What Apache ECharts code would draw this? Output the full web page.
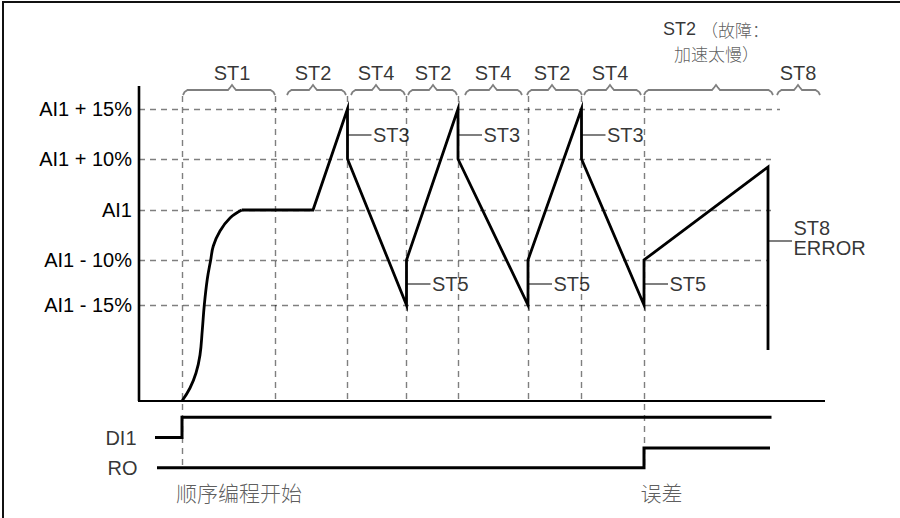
<!DOCTYPE html>
<html><head><meta charset="utf-8">
<script src="https://cdn.jsdelivr.net/npm/echarts@6/dist/echarts.min.js"></script>
<style>
html,body{margin:0;padding:0;background:#fff;}
#wrap{position:relative;width:900px;height:518px;overflow:hidden;}
#c{width:900px;height:518px;}
#frame{position:absolute;left:2px;top:1px;right:-4px;bottom:-4px;border-left:2px solid #111;border-top:2px solid #111;pointer-events:none;}
</style>
</head><body><div id="wrap"><div id="c"></div><div id="frame"></div></div>
<script>
// ---- level (y) axis: schematic levels ----
const levelLabels = ['AI1 + 15%', 'AI1 + 10%', 'AI1', 'AI1 - 10%', 'AI1 - 15%'];
const levelValues = [292, 242, 191, 141, 96];
const levelLineEnd = [641, 632, 632, 628, 628];
const axisTop = 315;
const axisEnd = 686;

// ---- state boundaries (time) ----
const stepTimes = [43, 136, 208.5, 267.5, 319, 389, 442.5, 505];
const stepBottom = [-69, 0, 0, 0, 0, 0, 0, -69];
const stepTop = 305;

// ---- start-up S curve ----
const startT = [43, 51, 57, 61, 63.3, 65.3, 68.3, 71.7, 74.3, 81, 91, 102.7];
const startV = [0, 13, 28, 46, 71, 96, 122, 141, 155, 170, 183, 191];

// ---- ramp sequence ----
const rampT = [102.7, 174, 208.5, 208.5, 267.5, 267.5, 319, 319, 389, 389, 442.5, 442.5, 505, 505, 629, 629];
const rampV = [191, 191, 292, 242, 96, 141, 292, 242, 96, 141, 292, 242, 96, 141, 234, 51];

// ---- state markers ----
const markerT = [208.5, 319, 442.5, 267.5, 389, 505, 629];
const markerV = [266.5, 266.5, 266.5, 117, 117, 117, 160];
const markerText = ['ST3', 'ST3', 'ST3', 'ST5', 'ST5', 'ST5', 'ST8\nERROR'];

// ---- state braces ----
const braceNames = ['ST1', 'ST2', 'ST4', 'ST2', 'ST4', 'ST2', 'ST4', '', 'ST8'];
const braceStart = [44, 148, 212, 269, 326, 388, 445, 505, 638];
const braceEnd = [136, 207, 266, 318, 383, 443, 502, 634, 681];
const braceMid = [93, 174, 237, 294, 354, 413, 471, 577, 659];
const faultLine1 = ['ST2', '（故障：'];
const faultLine2 = '加速太慢）';

// ---- digital signals ----
const di1T = [16, 43, 43, 632.5];
const di1V = [-36.5, -36.5, -16.3, -16.3];
const roT = [18, 505, 505, 631];
const roV = [-66.7, -66.7, -47, -47];
const signalNames = ['DI1', 'RO'];
const eventText = ['顺序编程开始', '误差'];

const fontLatin = '"Liberation Sans", Arial, Helvetica, sans-serif';
const fontCJK = '"Noto Sans CJK SC", "Noto Sans CJK JP", sans-serif';

const zip = (a, b) => a.map((v, i) => [v, b[i]]);
const dash = { type: [6, 5], width: 1.4, color: '#000' };

// brace polyline shape around start/mid/end
function braceCoords(s, m, e) {
  const L = 311;
  return [[s, L - 5], [s + 1.5, L - 2], [s + 4.5, L], [m - 4, L], [m - 1.5, L + 3], [m, L + 5],
          [m + 1.5, L + 3], [m + 4, L], [e - 4.5, L], [e - 1.5, L - 2], [e, L - 5]];
}

const textItems = [];
function addText(x, y, text, pos, extra) {
  textItems.push({ value: [x, y], label: Object.assign({
    show: true, position: pos, distance: 0, formatter: text,
    fontSize: 20, fontFamily: fontLatin, color: '#000'
  }, extra || {}) });
}
const cjkStyle = { fontFamily: fontCJK, color: '#333', fontWeight: 300 };
braceNames.forEach((n, i) => { if (n) addText(braceMid[i], 328, n, 'inside'); });
addText(braceMid[7], 372, '{a|' + faultLine1[0] + ' }{b|' + faultLine1[1] + '}', 'inside', {
  lineHeight: 17,
  rich: { a: { fontSize: 18, lineHeight: 17, fontFamily: fontLatin, color: '#000' },
          b: Object.assign({ fontSize: 17, lineHeight: 17 }, cjkStyle) } });
addText(braceMid[7] + 0.5, 347.5, faultLine2, 'inside', Object.assign({ fontSize: 17, lineHeight: 17 }, cjkStyle));
markerText.forEach((t, i) => {
  addText(markerT[i] + 25, markerV[i], t, 'right', t.indexOf('\n') >= 0 ? { lineHeight: 20.5, offset: [0, -3] } : {});
});
addText(-2, di1V[0], signalNames[0], 'left');
addText(-1, roV[0], signalNames[1], 'left');
addText(36.5, -91, eventText[0], 'right', Object.assign({ fontSize: 21 }, cjkStyle));
addText(501, -91, eventText[1], 'right', Object.assign({ fontSize: 21 }, cjkStyle));

const chart = echarts.init(document.getElementById('c'), null, { renderer: 'svg' });
chart.setOption({
  animation: false,
  backgroundColor: '#fff',
  grid: { left: 139, right: 75, top: 0, bottom: 0 },
  xAxis: { type: 'value', min: 0, max: axisEnd, show: false },
  yAxis: {
    type: 'value', min: -117, max: 401,
    axisLine: { show: false }, axisTick: { show: false }, splitLine: { show: false },
    axisLabel: {
      customValues: levelValues,
      formatter: v => { const i = levelValues.indexOf(v); return i >= 0 ? levelLabels[i] : ''; },
      margin: 7, fontSize: 20, fontFamily: fontLatin, color: '#000'
    }
  },
  series: [
    { type: 'lines', coordinateSystem: 'cartesian2d', clip: false, silent: true,
      lineStyle: dash,
      data: levelValues.map((v, i) => ({ coords: [[0, v], [levelLineEnd[i], v]] })) },
    { type: 'lines', coordinateSystem: 'cartesian2d', clip: false, silent: true,
      lineStyle: dash,
      data: stepTimes.map((t, i) => ({ coords: [[t, stepTop], [t, stepBottom[i]]] })) },
    { type: 'line', clip: false, symbol: 'none', silent: true,
      lineStyle: { color: '#000', width: 2.6 }, data: [[0, 0], [0, axisTop]] },
    { type: 'line', clip: false, symbol: 'none', silent: true,
      lineStyle: { color: '#000', width: 2 }, data: [[-2, 0], [axisEnd, 0]] },
    { type: 'line', clip: false, symbol: 'none', silent: true, smooth: 0.4,
      lineStyle: { color: '#000', width: 2.8 }, data: zip(startT, startV) },
    { type: 'line', clip: false, symbol: 'none', silent: true,
      lineStyle: { color: '#000', width: 2.8, join: 'miter', miterLimit: 20 }, data: zip(rampT, rampV) },
    { type: 'lines', coordinateSystem: 'cartesian2d', clip: false, silent: true,
      lineStyle: { color: '#000', width: 2 },
      data: markerT.map((t, i) => ({ coords: [[t, markerV[i]], [t + 24, markerV[i]]] })) },
    { type: 'line', clip: false, symbol: 'none', silent: true,
      lineStyle: { color: '#000', width: 3, join: 'miter' }, data: zip(di1T, di1V) },
    { type: 'line', clip: false, symbol: 'none', silent: true,
      lineStyle: { color: '#000', width: 3, join: 'miter' }, data: zip(roT, roV) },
    { type: 'lines', coordinateSystem: 'cartesian2d', polyline: true, clip: false, silent: true,
      lineStyle: { color: '#000', width: 1.8 },
      data: braceStart.map((s, i) => ({ coords: braceCoords(s, braceMid[i], braceEnd[i]) })) },
    { type: 'scatter', clip: false, silent: true, symbolSize: 1,
      itemStyle: { color: 'rgba(0,0,0,0)' }, data: textItems }
  ]
});
</script>
</body></html>
